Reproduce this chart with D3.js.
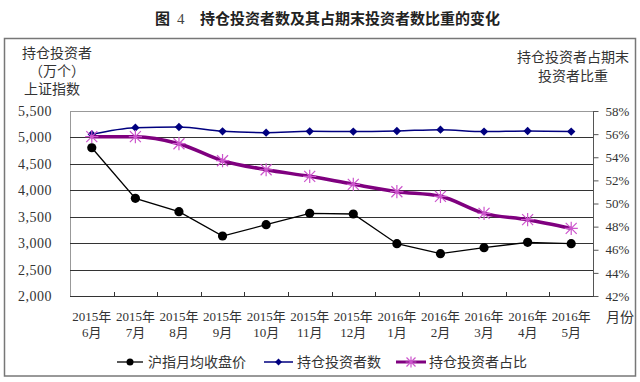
<!DOCTYPE html>
<html><head><meta charset="utf-8">
<script src="https://cdn.jsdelivr.net/npm/d3@7/dist/d3.min.js"></script>
<style>
html,body{margin:0;padding:0;background:#fff;}
svg text{font-family:"Liberation Serif","Noto Sans CJK SC",serif;}
.cjk{font-family:"Noto Sans CJK SC","Liberation Serif",sans-serif;}
</style></head>
<body><svg id="c" width="640" height="382"></svg>
<script>
const years = ["2015年","2015年","2015年","2015年","2015年","2015年","2015年","2016年","2016年","2016年","2016年","2016年"];
const months = ["6月","7月","8月","9月","10月","11月","12月","1月","2月","3月","4月","5月"];
const categories = months.map((m,i)=>years[i]+m);
const shIndex = [4805, 3848, 3595, 3135, 3349, 3564, 3551, 2990, 2800, 2914, 3015, 2990];
const holders = [5059, 5185, 5197, 5115, 5090, 5115, 5110, 5122, 5147, 5110, 5122, 5110];
const holderShare = [0.5578, 0.5578, 0.5517, 0.5370, 0.5292, 0.5235, 0.5166, 0.5102, 0.5062, 0.4915, 0.4860, 0.4785];
const leftTicks = [2000,2500,3000,3500,4000,4500,5000,5500];
const rightTicks = [0.42,0.44,0.46,0.48,0.50,0.52,0.54,0.56,0.58];
const seriesNames = ["沪指月均收盘价","持仓投资者数","持仓投资者占比"];

const svg = d3.select("#c");
const L=70, R=593, T=111, B=296;

// frame
svg.append("rect").attr("x",4.5).attr("y",38.5).attr("width",631).attr("height",337.5)
  .attr("fill","none").attr("stroke","#777").attr("stroke-width",1.5);

// title
svg.append("text").attr("class","cjk").attr("x",155).attr("y",24).attr("font-size",15).attr("font-weight","bold").attr("fill","#222")
  .text("图");
svg.append("text").attr("x",177).attr("y",24).attr("font-size",15).attr("fill","#444")
  .text("4");
svg.append("text").attr("class","cjk").attr("x",200).attr("y",24).attr("font-size",15).attr("font-weight","bold").attr("fill","#222")
  .text("持仓投资者数及其占期末投资者数比重的变化");

const x = d3.scaleBand().domain(categories).range([L,R]);
const yL = d3.scaleLinear().domain([2000,5500]).range([B,T]);
const yR = d3.scaleLinear().domain([0.42,0.58]).range([B,T]);
const cx = c => x(c)+x.bandwidth()/2;

// plot border
svg.append("rect").attr("x",L+0.5).attr("y",T+0.5).attr("width",R-L).attr("height",B-T)
  .attr("fill","none").attr("stroke","#999").attr("stroke-width",1);
svg.append("line").attr("x1",R+0.5).attr("x2",R+0.5).attr("y1",T).attr("y2",B).attr("stroke","#555");

// gridlines
svg.append("g").selectAll("line").data(leftTicks.filter(t=>t>2000&&t<5500)).join("line")
  .attr("x1",L).attr("x2",R).attr("y1",d=>Math.round(yL(d))+0.5).attr("y2",d=>Math.round(yL(d))+0.5)
  .attr("stroke","#333").attr("stroke-width",1);
svg.append("line").attr("x1",L).attr("x2",R+1).attr("y1",B+0.5).attr("y2",B+0.5).attr("stroke","#333");

// left axis
const gl = svg.append("g").attr("transform",`translate(${L},0)`)
  .call(d3.axisLeft(yL).tickValues(leftTicks).tickSize(0).tickPadding(18).tickFormat(d3.format(",")));
gl.select(".domain").remove();
gl.selectAll("text").attr("font-size",14).attr("fill","#333").attr("letter-spacing","0.5px");

// right axis
const gr = svg.append("g").attr("transform",`translate(${R+0.5},0)`)
  .call(d3.axisRight(yR).tickValues(rightTicks).tickSize(5).tickPadding(7).tickFormat(d3.format(".0%")));
gr.select(".domain").remove();
gr.selectAll("line").attr("stroke","#555");
gr.selectAll("text").attr("font-size",13).attr("fill","#333");

// x ticks (inside, at boundaries)
const bounds = categories.slice(1).map(c=>x(c));
svg.append("g").selectAll("line").data(bounds).join("line")
  .attr("x1",d=>Math.round(d)+0.5).attr("x2",d=>Math.round(d)+0.5).attr("y1",B-4).attr("y2",B)
  .attr("stroke","#333");

// x labels
const gx = svg.append("g").attr("transform",`translate(0,${B})`)
  .call(d3.axisBottom(x).tickSize(0).tickPadding(0).tickFormat(()=>""));
gx.select(".domain").remove();
gx.selectAll(".tick text").each(function(d,i){
  const t = d3.select(this).attr("font-size",13).attr("fill","#333").attr("dy",null).attr("y",0);
  t.append("tspan").attr("x",0).attr("y",25).text(years[i]);
  t.append("tspan").attr("x",0).attr("y",41).text(months[i]);
});
svg.append("text").attr("class","cjk").attr("x",606).attr("y",322).attr("font-size",14).attr("fill","#333").text("月份");

// axis titles
const lt = svg.append("g").attr("class","cjk").attr("font-size",14).attr("fill","#333").attr("text-anchor","middle");
lt.append("text").attr("x",57).attr("y",58).text("持仓投资者");
lt.append("text").attr("x",57).attr("y",76).text("（万个）");
lt.append("text").attr("x",52).attr("y",94).text("上证指数");
const rt = svg.append("g").attr("class","cjk").attr("font-size",14).attr("fill","#333").attr("text-anchor","middle");
rt.append("text").attr("x",573).attr("y",62).text("持仓投资者占期末");
rt.append("text").attr("x",573).attr("y",81).text("投资者比重");

// series
const lineL = d3.line().x((d,i)=>cx(categories[i])).y(d=>yL(d)).curve(d3.curveMonotoneX);
const lineLs = d3.line().x((d,i)=>cx(categories[i])).y(d=>yL(d));
const lineR = d3.line().x((d,i)=>cx(categories[i])).y(d=>yR(d)).curve(d3.curveMonotoneX);

const blue="#00007f", purple="#7f007f", star="#cc55cc";
// blue
svg.append("path").attr("d",lineL(holders)).attr("fill","none").attr("stroke",blue).attr("stroke-width",1.5);
const diamond = (g,s)=>g.append("path").attr("d",`M0,${-s}L${s},0L0,${s}L${-s},0Z`).attr("fill",blue);
svg.append("g").selectAll("g").data(holders).join("g")
  .attr("transform",(d,i)=>`translate(${cx(categories[i])},${yL(d)})`).each(function(){diamond(d3.select(this),4.2);});
// purple
svg.append("path").attr("d",lineR(holderShare)).attr("fill","none").attr("stroke",purple).attr("stroke-width",3.5);
const starMark = (g,s)=>{
  g.append("path").attr("d",`M${-s},${-s}L${s},${s}M${-s},${s}L${s},${-s}M0,${-s*1.2}L0,${s*1.2}M${-s*1.2},0L${s*1.2},0`)
   .attr("stroke",star).attr("stroke-width",1.2).attr("fill","none");
};
svg.append("g").selectAll("g").data(holderShare).join("g")
  .attr("transform",(d,i)=>`translate(${cx(categories[i])},${yR(d)})`).each(function(){starMark(d3.select(this),5.5);});
// black
svg.append("path").attr("d",lineLs(shIndex)).attr("fill","none").attr("stroke","#000").attr("stroke-width",1.3);
svg.append("g").selectAll("circle").data(shIndex).join("circle")
  .attr("cx",(d,i)=>cx(categories[i])).attr("cy",d=>yL(d)).attr("r",4.6).attr("fill","#000");

// legend
const ly = 362;
const lg = svg.append("g");
const items = [{x1:117,x2:143,tx:148,c:"#000",w:1.3},{x1:264,x2:293,tx:297,c:blue,w:1.5},{x1:396,x2:426,tx:429,c:purple,w:3}];
items.forEach((it,i)=>{
  lg.append("line").attr("x1",it.x1).attr("x2",it.x2).attr("y1",ly).attr("y2",ly).attr("stroke",it.c).attr("stroke-width",it.w);
  const m = (it.x1+it.x2)/2;
  if(i===0) lg.append("circle").attr("cx",m).attr("cy",ly).attr("r",3.5).attr("fill","#000");
  if(i===1){ const g=lg.append("g").attr("transform",`translate(${m},${ly})`); g.append("path").attr("d","M0,-3.5L3.5,0L0,3.5L-3.5,0Z").attr("fill",blue);}
  if(i===2){ const g=lg.append("g").attr("transform",`translate(${m},${ly})`); starMark(g,4.5);}
  lg.append("text").attr("class","cjk").attr("x",it.tx).attr("y",ly+5).attr("font-size",14).attr("fill","#333").text(seriesNames[i]);
});
</script></body></html>
